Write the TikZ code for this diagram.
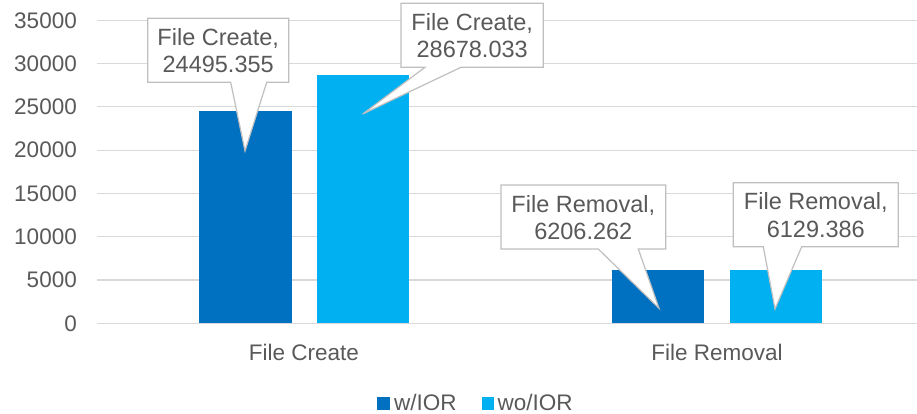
\documentclass[tikz,border=0pt]{standalone}
\usepackage{fontspec}
\setmainfont{Liberation Sans}
\definecolor{darkbar}{HTML}{0070C0}
\definecolor{lightbar}{HTML}{00B0F0}
\definecolor{gridc}{HTML}{D9D9D9}
\definecolor{textc}{HTML}{595959}
\definecolor{callc}{HTML}{BFBFBF}
\begin{document}
\begin{tikzpicture}[x=1pt,y=-1pt,
  lbl/.style={text=textc,font=\fontsize{22.5}{27.6}\selectfont,inner sep=0pt},
  calltext/.style={text=textc,font=\fontsize{23.5}{27.6}\selectfont,inner sep=0pt,align=center},
  gridline/.style={draw=gridc,line width=1.2pt},
  callbox/.style={fill=white,draw=callc,line width=1.2pt,line join=miter}]
\useasboundingbox (0,0) rectangle (917,414);
% grid and y labels
\foreach \k/\val in {0/0,1/5000,2/10000,3/15000,4/20000,5/25000,6/30000,7/35000}{
  \pgfmathsetmacro{\yy}{323.3-\k*43.2857}
  \coordinate (g\k) at (97.3,\yy);
  \coordinate (h\k) at (917,\yy);
  \draw[gridline] (g\k) -- (h\k);
  \node[lbl,anchor=east] (y\k) at (77,\yy) {\val};
}
% bars
\fill[darkbar] (199,323.3) rectangle (291.7,111.2);
\fill[lightbar] (316.7,323.3) rectangle (409,75);
\fill[darkbar] (612.3,323.3) rectangle (704.3,269.6);
\fill[lightbar] (729.7,323.3) rectangle (822.3,270.2);
% category labels
\node[lbl,anchor=base] (c1) at (304,360) {File Create};
\node[lbl,anchor=base] (c2) at (717,360) {File Removal};
% callouts
\draw[callbox] (147.7,18.3) -- (288.7,18.3) -- (288.7,82.3) -- (266.7,82.3) -- (245,151) -- (230.7,82.3) -- (147.7,82.3) -- cycle;
\node[calltext] (t1) at (218.2,50.8) {File Create,\\24495.355};
\draw[callbox] (401,3.3) -- (543.3,3.3) -- (543.3,67.3) -- (461,67.3) -- (362.7,114) -- (425,67.3) -- (401,67.3) -- cycle;
\node[calltext] (t2) at (472.2,35.8) {File Create,\\28678.033};
\draw[callbox] (501,185) -- (665.7,185) -- (665.7,249) -- (638.3,249) -- (659,308.3) -- (598.3,249) -- (501,249) -- cycle;
\node[calltext] (t3) at (583.3,217.5) {File Removal,\\6206.262};
\draw[callbox] (733.3,182.7) -- (898.3,182.7) -- (898.3,246.7) -- (801.7,246.7) -- (775,309) -- (763.3,246.7) -- (733.3,246.7) -- cycle;
\node[calltext] (t4) at (815.8,215.2) {File Removal,\\6129.386};
% legend
\fill[darkbar] (377.3,397.3) rectangle (390,410);
\node[lbl,anchor=base west] (l1) at (394,410.5) {w/IOR};
\fill[lightbar] (481.7,397.3) rectangle (493.7,410);
\node[lbl,anchor=base west] (l2) at (497.5,410.5) {wo/IOR};
\end{tikzpicture}
\end{document}
